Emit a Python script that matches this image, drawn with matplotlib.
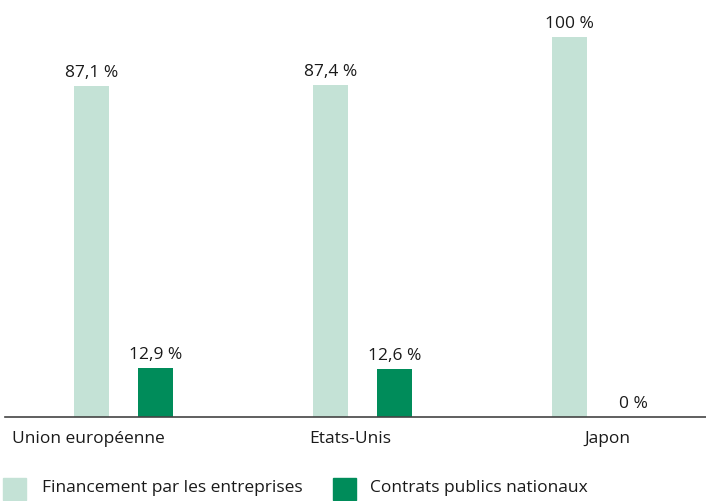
import numpy as np
import matplotlib.pyplot as plt

# data
categories = ["Union européenne", "Etats-Unis", "Japon"]
entreprises = [87.1, 87.4, 100.0]
contrats = [12.9, 12.6, 0.0]
lbl_entreprises = ["87,1 %", "87,4 %", "100 %"]
lbl_contrats = ["12,9 %", "12,6 %", "0 %"]
series_names = ["Financement par les entreprises", "Contrats publics nationaux"]

light = "#c4e2d6"
dark = "#008c5a"
txt = "#1a1a1a"

plt.rcParams['font.family'] = ['Open Sans', 'DejaVu Sans']
fs = 12.5

fig = plt.figure(figsize=(7.06, 5.01), dpi=100)
ax = fig.add_axes([5 / 706, 84 / 501, 701 / 706, 417 / 501])

x = np.arange(len(categories))
off = 32 / 239
w = 35 / 239

ax.bar(x - off, entreprises, w, color=light, zorder=2)
ax.bar(x + off, contrats, w, color=dark, zorder=2)

for i in range(len(categories)):
    ax.text(x[i] - off, entreprises[i] + 1.3, lbl_entreprises[i], ha="center",
            va="bottom", fontsize=fs, color=txt)
    ax.text(x[i] + off, contrats[i] + 1.3, lbl_contrats[i], ha="center",
            va="bottom", fontsize=fs, color=txt)

ax.set_xlim(-0.496, 2.437)
ax.set_ylim(0, 109.7)

# category labels sit a little off the group centres in the original
label_pos = [-0.149, 0.948, 2.023]
for p, c in zip(label_pos, categories):
    ax.text(p, -3.6, c, ha="center", va="top", fontsize=fs, color=txt)

for s in ["top", "right", "left"]:
    ax.spines[s].set_visible(False)
ax.spines["bottom"].set_color("#444444")
ax.spines["bottom"].set_linewidth(1.2)
ax.set_xticks([])
ax.set_yticks([])

# legend drawn as squares + text at the bottom
fig.patches.append(plt.Rectangle((3 / 706, 1 / 501), 23 / 706, 22 / 501,
                                 transform=fig.transFigure, color=light))
fig.text(42 / 706, 13 / 501, series_names[0], va="center", fontsize=fs, color=txt)
fig.patches.append(plt.Rectangle((333 / 706, 1 / 501), 23 / 706, 22 / 501,
                                 transform=fig.transFigure, color=dark))
fig.text(370 / 706, 13 / 501, series_names[1], va="center", fontsize=fs, color=txt)

fig.savefig("out.png", dpi=100)
